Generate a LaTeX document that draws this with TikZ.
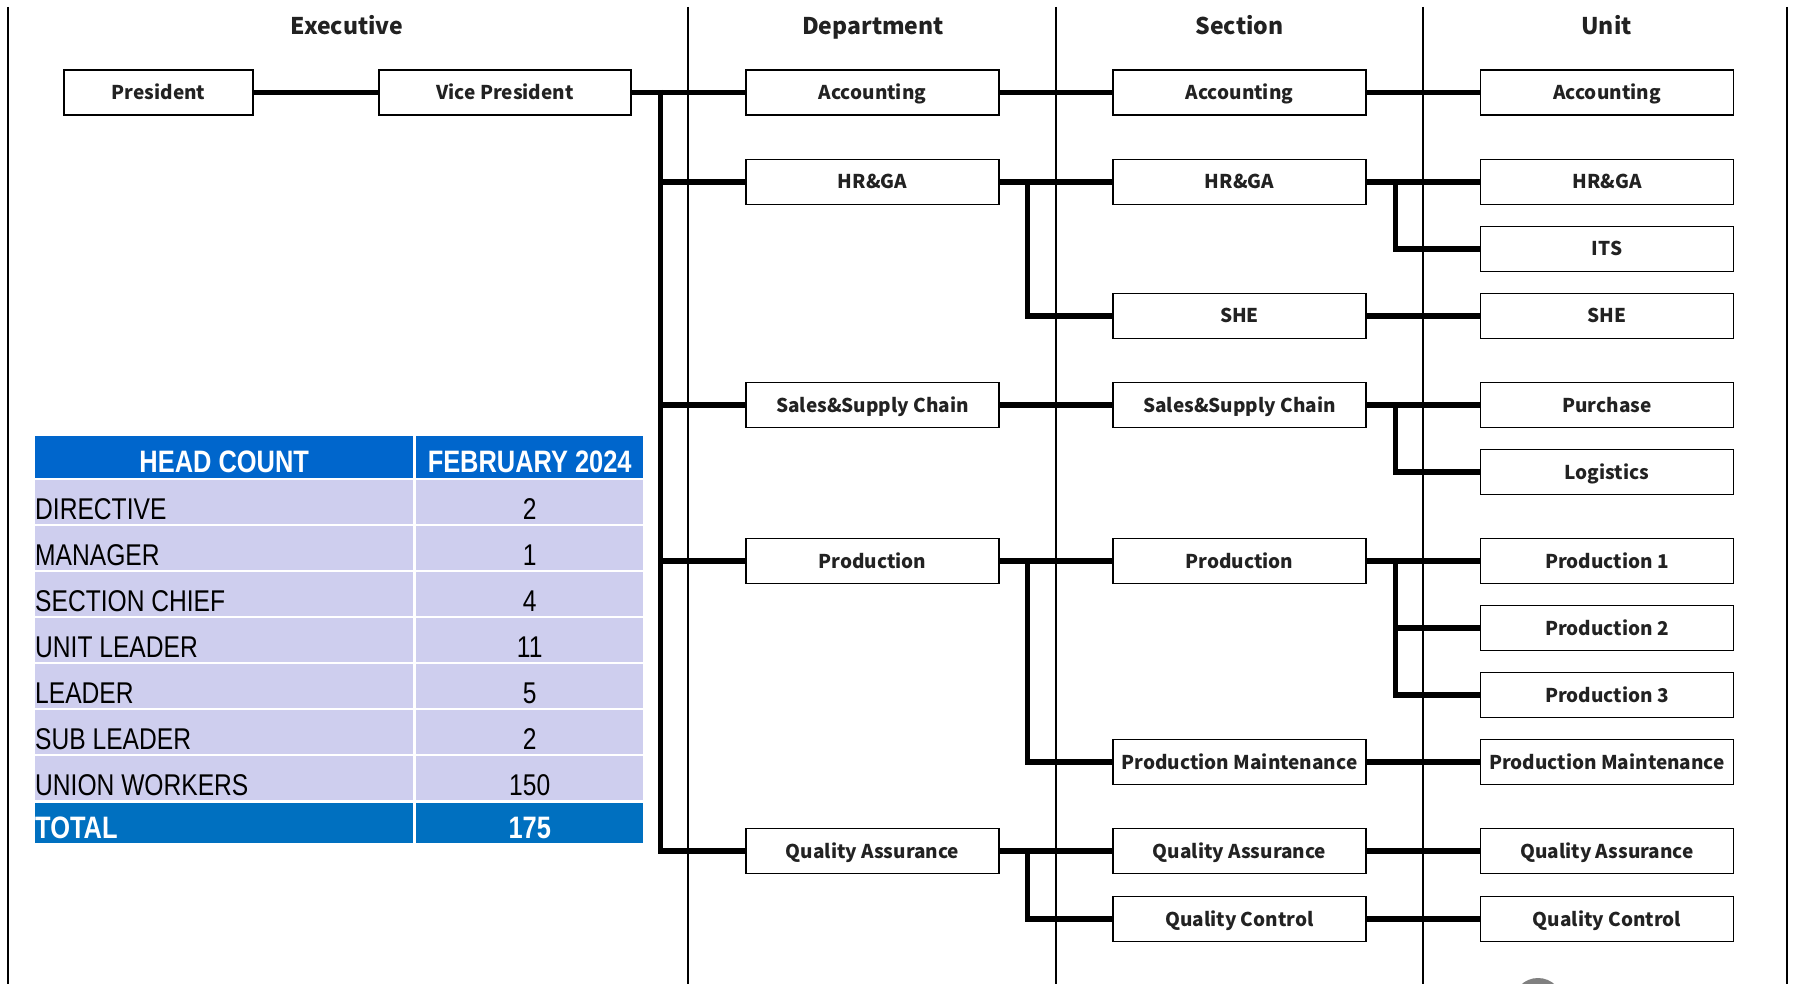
\documentclass[tikz,border=0pt]{standalone}
\usepackage{fontspec}
\setmainfont{Liberation Sans}
\newfontfamily\tabfont[FakeStretch=0.82]{Liberation Sans}
\newfontfamily\chartfont{Noto Sans CJK JP}
\definecolor{hdrblue}{RGB}{0,102,204}
\definecolor{totblue}{RGB}{0,112,192}
\definecolor{rowfill}{RGB}{206,206,238}
\definecolor{inkgray}{RGB}{34,34,34}
\begin{document}
\begin{tikzpicture}[x=1pt,y=-1pt,
  box/.style={draw=black, line width=1.6pt, fill=white, minimum width=253pt, minimum height=45pt, inner sep=0pt,
    text height=14pt, text depth=0pt,
    font=\chartfont\bfseries\fontsize{19}{22}\selectfont, text=inkgray},
  conn/.style={line width=5.2pt, line join=miter},
  divider/.style={line width=1.3pt},
  colhead/.style={anchor=base, font=\chartfont\bfseries\fontsize{23}{27}\selectfont, text=inkgray, inner sep=0pt},
  lcell/.style={fill=rowfill, minimum width=378pt, minimum height=44pt, inner sep=0pt, anchor=north west},
  rcell/.style={fill=rowfill, minimum width=227pt, minimum height=44pt, inner sep=0pt, anchor=north west},
  ltext/.style={anchor=base west, inner sep=0pt, font=\tabfont\fontsize{30}{34}\selectfont},
  ntext/.style={anchor=base, inner sep=0pt, font=\tabfont\fontsize{30}{34}\selectfont},
  htext/.style={inner sep=0pt, text=white, font=\tabfont\bfseries\fontsize{31}{35}\selectfont},
]
\clip (0,0) rectangle (1794,984);
\fill[white] (0,0) rectangle (1794,984);

% dividers
\draw[line width=2pt] (8,7) -- (8,984);
\draw[divider] (688,7) -- (688,984);
\draw[divider] (1056,7) -- (1056,984);
\draw[divider] (1423,7) -- (1423,984);
\draw[line width=1.6pt] (1787,7) -- (1787,984);

% column headings
\node[colhead] (hExe) at (347,35) {Executive};
\node[colhead] (hDep) at (873,35) {Department};
\node[colhead] (hSec) at (1239.5,35) {Section};
\node[colhead] (hUni) at (1606.5,35) {Unit};

% executive
\node[box, minimum width=189pt] (pres) at (158.5,92.5) {President};
\node[box, minimum width=252pt] (vp) at (505,92.5) {Vice President};

% department
\node[box] (dAcc) at (872.5,92.5) {Accounting};
\node[box] (dHR) at (872.5,182) {HR\&GA};
\node[box] (dSal) at (872.5,405) {Sales\&Supply Chain};
\node[box] (dPro) at (872.5,561) {Production};
\node[box] (dQA) at (872.5,851) {Quality Assurance};

% section
\node[box] (sAcc) at (1239.5,92.5) {Accounting};
\node[box] (sHR) at (1239.5,182) {HR\&GA};
\node[box] (sSHE) at (1239.5,316) {SHE};
\node[box] (sSal) at (1239.5,405) {Sales\&Supply Chain};
\node[box] (sPro) at (1239.5,561) {Production};
\node[box] (sPM) at (1239.5,762) {Production Maintenance};
\node[box] (sQA) at (1239.5,851) {Quality Assurance};
\node[box] (sQC) at (1239.5,919) {Quality Control};

% unit
\node[box] (uAcc) at (1607,92.5) {Accounting};
\node[box] (uHR) at (1607,182) {HR\&GA};
\node[box] (uITS) at (1607,249) {ITS};
\node[box] (uSHE) at (1607,316) {SHE};
\node[box] (uPur) at (1607,405) {Purchase};
\node[box] (uLog) at (1607,472) {Logistics};
\node[box] (uP1) at (1607,561) {Production 1};
\node[box] (uP2) at (1607,628) {Production 2};
\node[box] (uP3) at (1607,695) {Production 3};
\node[box] (uPM) at (1607,762) {Production Maintenance};
\node[box] (uQA) at (1607,851) {Quality Assurance};
\node[box] (uQC) at (1607,919) {Quality Control};

% connectors
\draw[conn] (pres.east) -- (vp.west);
\draw[conn] (vp.east) -- (dAcc.west);
\draw[conn] ([xshift=29pt,yshift=2.5pt]vp.east) |- (dQA.west);
\draw[conn] ([xshift=29pt]vp.east) |- (dHR.west);
\draw[conn] ([xshift=29pt]vp.east) |- (dSal.west);
\draw[conn] ([xshift=29pt]vp.east) |- (dPro.west);

\draw[conn] (dAcc.east) -- (sAcc.west);
\draw[conn] (sAcc.east) -- (uAcc.west);

\draw[conn] (dHR.east) -- (sHR.west);
\draw[conn] ([xshift=28pt,yshift=2.5pt]dHR.east) |- (sSHE.west);
\draw[conn] (sHR.east) -- (uHR.west);
\draw[conn] ([xshift=29pt,yshift=2.5pt]sHR.east) |- (uITS.west);
\draw[conn] (sSHE.east) -- (uSHE.west);

\draw[conn] (dSal.east) -- (sSal.west);
\draw[conn] (sSal.east) -- (uPur.west);
\draw[conn] ([xshift=29pt,yshift=2.5pt]sSal.east) |- (uLog.west);

\draw[conn] (dPro.east) -- (sPro.west);
\draw[conn] ([xshift=28pt,yshift=2.5pt]dPro.east) |- (sPM.west);
\draw[conn] (sPro.east) -- (uP1.west);
\draw[conn] ([xshift=29pt,yshift=2.5pt]sPro.east) |- (uP3.west);
\draw[conn] ([xshift=29pt]sPro.east) |- (uP2.west);
\draw[conn] (sPM.east) -- (uPM.west);

\draw[conn] (dQA.east) -- (sQA.west);
\draw[conn] ([xshift=28pt,yshift=2.5pt]dQA.east) |- (sQC.west);
\draw[conn] (sQA.east) -- (uQA.west);
\draw[conn] (sQC.east) -- (uQC.west);

% head count table
\node[lcell, fill=hdrblue, minimum height=42pt] (th1) at (35,436) {};
\node[rcell, fill=hdrblue, minimum height=42pt] (th2) at (416,436) {};
\node[htext, anchor=base] (tht1) at ([yshift=6pt]th1.south) {HEAD COUNT};
\node[htext, anchor=base] (tht2) at ([yshift=6pt]th2.south) {FEBRUARY 2024};
\foreach \lab/\num [count=\i] in {DIRECTIVE/2, MANAGER/1, SECTION CHIEF/4, UNIT LEADER/11, LEADER/5, SUB LEADER/2, UNION WORKERS/150} {
  \pgfmathsetmacro\rtop{480+46*(\i-1)}
  \node[lcell] (l\i) at (35,\rtop) {};
  \node[rcell] (r\i) at (416,\rtop) {};
  \node[ltext] (lt\i) at ([yshift=5pt]l\i.south west) {\lab};
  \node[ntext] (nt\i) at ([yshift=5pt]r\i.south) {\num};
}
\node[lcell, fill=totblue, minimum height=40pt] (tt1) at (35,803) {};
\node[rcell, fill=totblue, minimum height=40pt] (tt2) at (416,803) {};
\node[htext, anchor=base west] (ttt1) at ([yshift=5pt]tt1.south west) {TOTAL};
\node[htext, anchor=base] (ttt2) at ([yshift=5pt]tt2.south) {175};

% partial gray disc at the bottom edge
\fill[gray] (1538,1003) circle (25pt);
\end{tikzpicture}
\end{document}
